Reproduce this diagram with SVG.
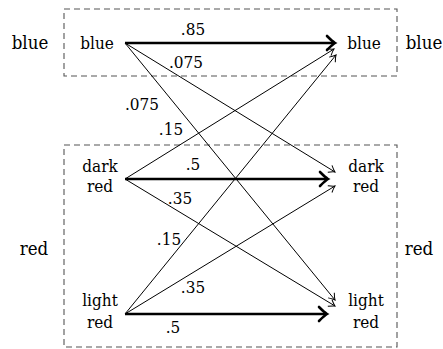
<svg xmlns="http://www.w3.org/2000/svg" width="443" height="349" viewBox="0 0 443 349">
<style>
text{font-family:"DejaVu Serif Condensed","DejaVu Serif",serif;font-stretch:condensed}
.n{font-size:17px;text-anchor:middle}
.o{font-size:18.5px;text-anchor:middle}
.l{font-size:17px;text-anchor:middle}
.box{fill:none;stroke:#555;stroke-width:1.1;stroke-dasharray:6,4}
.thin{stroke:#000;stroke-width:1;fill:none;marker-end:url(#a)}
.thick{stroke:#000;stroke-width:2.6;fill:none;marker-end:url(#b)}
</style>
<defs>
<marker id="a" markerUnits="userSpaceOnUse" markerWidth="20" markerHeight="20" viewBox="-10 -10 20 20" refX="0" refY="0" orient="auto" overflow="visible">
<path d="M -6,-4 Q -2,-0.8 0,0 Q -2,0.8 -6,4" fill="none" stroke="#000" stroke-width="1"/>
</marker>
<marker id="b" markerUnits="userSpaceOnUse" markerWidth="24" markerHeight="24" viewBox="-12 -12 24 24" refX="0" refY="0" orient="auto" overflow="visible">
<path d="M -7,-7 Q -1.5,-1.5 1,0 Q -1.5,1.5 -7,7" fill="none" stroke="#000" stroke-width="2.6" stroke-linecap="round"/>
</marker>
</defs>
<g id="group-blue">
<rect class="box" x="64" y="9" width="333" height="67"/>
<text class="o" x="30" y="49">blue</text>
<text class="o" x="424" y="49">blue</text>
</g>
<g id="group-red">
<rect class="box" x="64" y="145" width="333" height="202"/>
<text class="o" x="34" y="255">red</text>
<text class="o" x="419" y="255">red</text>
</g>
<g id="node-blue-left"><text class="n" x="97" y="49">blue</text></g>
<g id="node-darkred-left"><text class="n" x="100" y="172">dark</text><text class="n" x="100" y="192">red</text></g>
<g id="node-lightred-left"><text class="n" x="100" y="306">light</text><text class="n" x="100" y="328">red</text></g>
<g id="node-blue-right"><text class="n" x="364" y="49">blue</text></g>
<g id="node-darkred-right"><text class="n" x="366" y="172">dark</text><text class="n" x="366" y="192">red</text></g>
<g id="node-lightred-right"><text class="n" x="366" y="306">light</text><text class="n" x="366" y="328">red</text></g>
<g id="connectors">
<line class="thick" x1="125" y1="43" x2="334" y2="43"/>
<line class="thin" x1="125" y1="43" x2="335" y2="172"/>
<line class="thin" x1="125" y1="43" x2="335" y2="300"/>
<line class="thin" x1="125" y1="179" x2="334" y2="49"/>
<line class="thick" x1="125" y1="179" x2="327" y2="179"/>
<line class="thin" x1="125" y1="179" x2="335" y2="306"/>
<line class="thin" x1="125" y1="314" x2="336" y2="55"/>
<line class="thin" x1="125" y1="314" x2="335" y2="186"/>
<line class="thick" x1="125" y1="314" x2="326" y2="314"/>
<text class="l" x="193" y="35">.85</text>
<text class="l" x="186" y="68">.075</text>
<text class="l" x="142" y="110">.075</text>
<text class="l" x="171" y="135">.15</text>
<text class="l" x="193" y="170">.5</text>
<text class="l" x="180" y="204">.35</text>
<text class="l" x="169" y="245">.15</text>
<text class="l" x="193" y="293">.35</text>
<text class="l" x="173" y="333">.5</text>
</g>
</svg>
